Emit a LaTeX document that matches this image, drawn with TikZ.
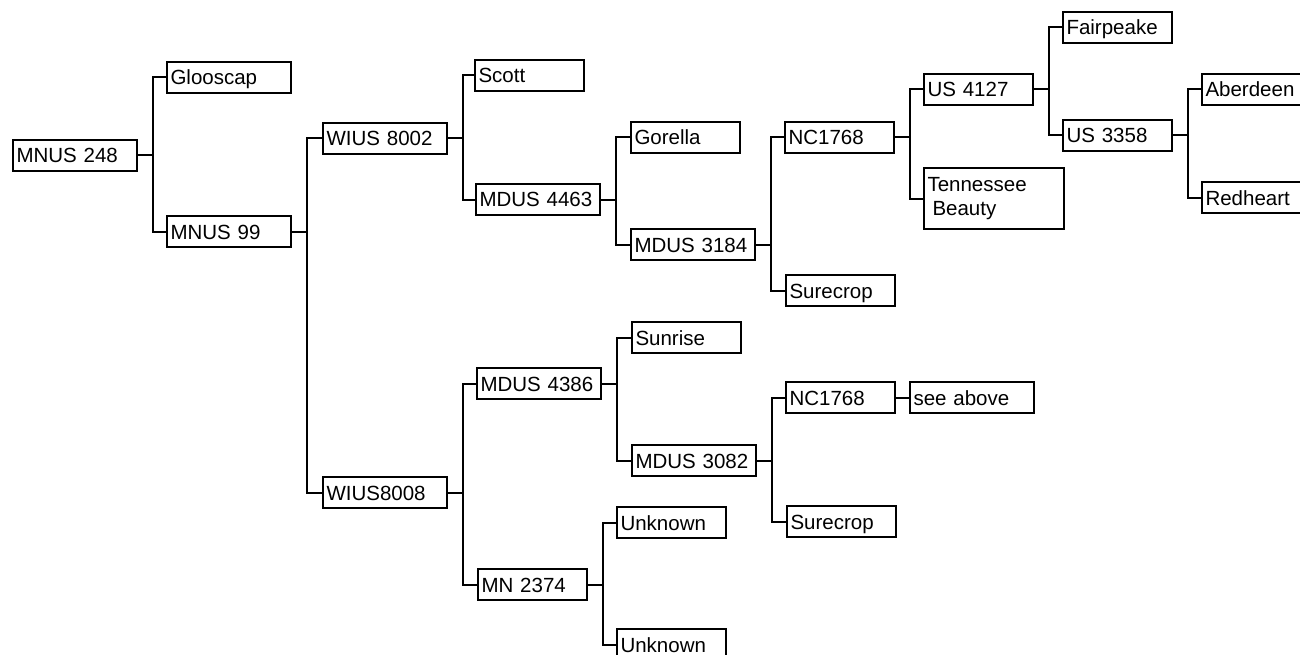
\documentclass[tikz,border=0pt]{standalone}
\usepackage{fontspec}
\setmainfont{Liberation Sans}
\tikzset{
  box/.style={draw, line width=2pt, anchor=north west, inner xsep=3.5pt, inner ysep=0pt,
    minimum height=31pt, text height=15pt, text depth=0pt, align=left,
    font=\fontsize{20.5}{24}\selectfont},
  wa/.style={text width=102pt},
  wb/.style={text width=117pt},
  wc/.style={text width=133pt},
  conn/.style={line width=2pt},
}
\newcommand\mkfork[3]{%
  \coordinate (#1-b) at ([xshift=15pt]#1.east);
  \draw[conn] (#1.east) -- (#1-b);
  \draw[conn] (#2.west) -| (#1-b) |- (#3.west);
}
\begin{document}
\begin{tikzpicture}[x=1pt,y=-1pt]
\useasboundingbox (0,0) rectangle (1300,655);
\clip (0,0) rectangle (1300,655);
% nodes
\node[box,wb] (m248) at (12,139) {MNUS 248};
\node[box,wb] (gloo) at (166,61) {Glooscap};
\node[box,wb] (m99) at (166,215) {MNUS 99};
\node[box,wb] (w8002) at (322,122) {WIUS 8002};
\node[box,wb] (w8008) at (322,476) {WIUS8008};
\node[box,wa] (scott) at (474,59) {Scott};
\node[box,wb] (md4463) at (475,183) {MDUS 4463};
\node[box,wa] (gor) at (630,121) {Gorella};
\node[box,wb] (md3184) at (630,228) {MDUS 3184};
\node[box,wa] (nc1) at (784,121) {NC1768};
\node[box,wa] (sure1) at (785,274) {Surecrop};
\node[box,wa] (us4127) at (923,73) {US 4127};
\node[box,wc,minimum height=61pt,text height=,text depth=] (tenn) at (923,167) {Tennessee\\\hspace{5pt}Beauty};
\node[box,wa] (fair) at (1062,11) {Fairpeake};
\node[box,wa] (us3358) at (1062,119) {US 3358};
\node[box,wa] (aber) at (1201,73) {Aberdeen};
\node[box,wa] (red) at (1201,181) {Redheart};
\node[box,wb] (md4386) at (476,367) {MDUS 4386};
\node[box,wa] (mn2374) at (477,568) {MN 2374};
\node[box,wa] (sun) at (631,321) {Sunrise};
\node[box,wb] (md3082) at (631,444) {MDUS 3082};
\node[box,wa] (unk1) at (616,506) {Unknown};
\node[box,wa] (unk2) at (616,628) {Unknown};
\node[box,wa] (nc2) at (785,381) {NC1768};
\node[box,wb] (see) at (909,381) {see above};
\node[box,wa] (sure2) at (786,505) {Surecrop};
% connectors
\mkfork{m248}{gloo}{m99}
\mkfork{m99}{w8002}{w8008}
\mkfork{w8002}{scott}{md4463}
\mkfork{md4463}{gor}{md3184}
\mkfork{md3184}{nc1}{sure1}
\mkfork{nc1}{us4127}{tenn}
\mkfork{us4127}{fair}{us3358}
\mkfork{us3358}{aber}{red}
\mkfork{w8008}{md4386}{mn2374}
\mkfork{md4386}{sun}{md3082}
\mkfork{mn2374}{unk1}{unk2}
\mkfork{md3082}{nc2}{sure2}
\draw[conn] (nc2.east) -- (see.west);
\end{tikzpicture}
\end{document}
